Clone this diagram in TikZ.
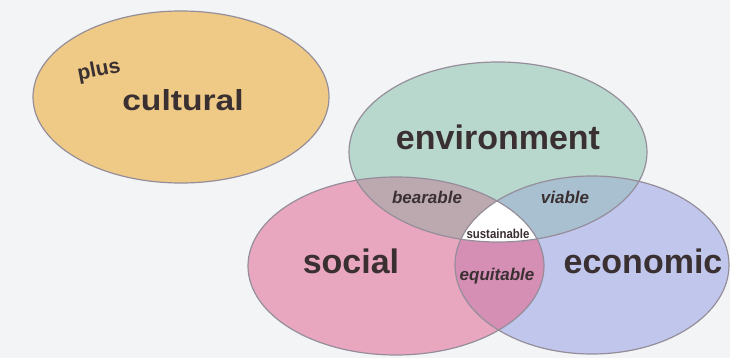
\documentclass[tikz,border=0pt]{standalone}
\usepackage{fontspec}
\setmainfont{Liberation Sans}
\definecolor{bgcol}{HTML}{F3F4F6}
\definecolor{culcol}{HTML}{EFCA86}
\definecolor{envcol}{HTML}{B8D8CE}
\definecolor{soccol}{HTML}{E8A7BF}
\definecolor{ecocol}{HTML}{C0C6EC}
\definecolor{bearcol}{HTML}{BBA9AF}
\definecolor{viacol}{HTML}{A8C0D0}
\definecolor{equcol}{HTML}{D58EB4}
\definecolor{edgecol}{HTML}{958E9A}
\definecolor{txtcol}{HTML}{3A3032}
\tikzset{
  bigtext/.style={font=\fontsize{34}{40}\selectfont\bfseries, text=txtcol, inner sep=0pt, anchor=base},
  smalltext/.style={font=\fontsize{17}{20}\selectfont\bfseries\itshape, text=txtcol, inner sep=0pt, anchor=base},
  rim/.style={draw=edgecol, line width=1.2pt}
}
\def\envE{(498,152) ellipse [x radius=149pt, y radius=90pt]}
\def\socE{(396,266) ellipse [x radius=148pt, y radius=89pt]}
\def\ecoE{(592,265) ellipse [x radius=137pt, y radius=89pt]}
\def\culE{(181,97) ellipse [x radius=148pt, y radius=86pt]}
\begin{document}
\begin{tikzpicture}[x=1pt,y=-1pt]
\fill[bgcol] (0,0) rectangle (730,358);
\useasboundingbox (0,0) rectangle (730,358);
% cultural
\fill[culcol] \culE;
\draw[rim] \culE;
% base fills
\fill[envcol] \envE;
\fill[soccol] \socE;
\fill[ecocol] \ecoE;
% pairwise overlaps
\begin{scope}
  \clip \envE;
  \fill[bearcol] \socE;
\end{scope}
\begin{scope}
  \clip \envE;
  \fill[viacol] \ecoE;
\end{scope}
\begin{scope}
  \clip \socE;
  \fill[equcol] \ecoE;
\end{scope}
\begin{scope}
  \clip \envE;
  \clip \socE;
  \fill[white] \ecoE;
\end{scope}
% borders
\draw[rim] \envE;
\draw[rim] \socE;
\draw[rim] \ecoE;
% texts
\node[font=\fontsize{21}{24}\selectfont\bfseries, text=txtcol, inner sep=0pt, rotate=11] (plus) at (99,71) {plus};
\node[bigtext, font=\fontsize{29}{34}\selectfont\bfseries, xscale=1.16] (cultural) at (183,111) {cultural};
\node[bigtext] (environment) at (498,150) {environment};
\node[bigtext] (social) at (351,273) {social};
\node[bigtext] (economic) at (643,273) {economic};
\node[smalltext] (bearable) at (427,203) {bearable};
\node[smalltext] (viable) at (565,203) {viable};
\node[font=\fontsize{13}{15}\selectfont\bfseries, text=txtcol, inner sep=0pt, anchor=base, xscale=0.88] (sustainable) at (498,238) {sustainable};
\node[smalltext] (equitable) at (497,280) {equitable};
\end{tikzpicture}
\end{document}
